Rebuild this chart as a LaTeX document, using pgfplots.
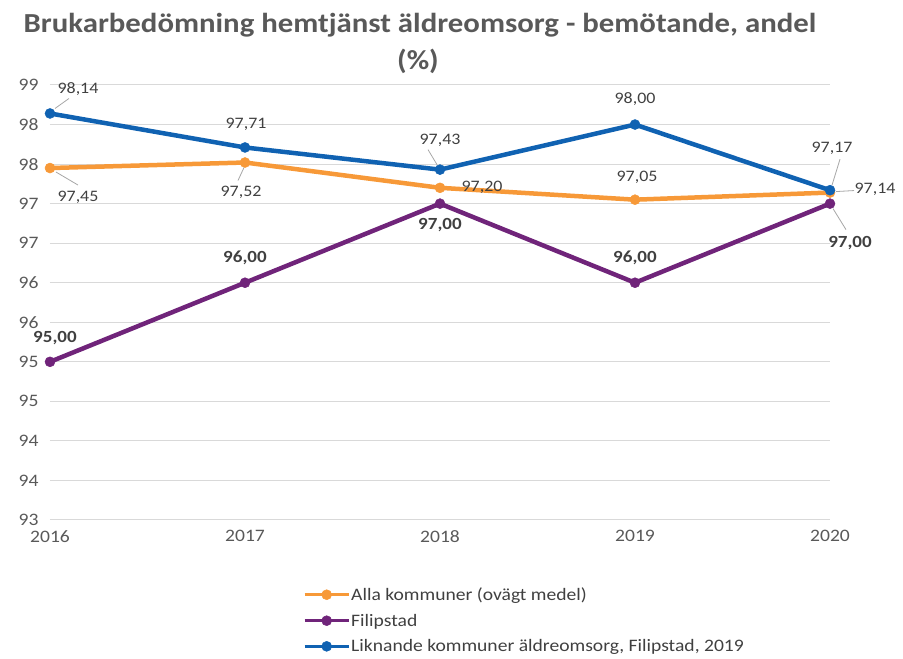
\documentclass[border=0pt]{standalone}
\usepackage{fontspec}
\setmainfont{Carlito}[FakeStretch=1.12]
\usepackage{pgfplots}
\pgfplotsset{compat=1.18}
\definecolor{cOr}{RGB}{247,153,56}
\definecolor{cPu}{RGB}{112,36,122}
\definecolor{cBl}{RGB}{16,98,178}
\definecolor{cTxt}{RGB}{89,89,89}
\definecolor{cLab}{RGB}{64,64,64}
\definecolor{cGrid}{RGB}{217,217,217}
\definecolor{cLead}{RGB}{166,166,166}
\begin{document}
\begin{tikzpicture}[
 lab/.style={font=\fontsize{16}{19}\selectfont, text=cLab, inner sep=1pt},
 blab/.style={font=\fontsize{17}{20}\selectfont\bfseries, text=cLab, inner sep=1pt},
 lead/.style={draw=cLead, line width=0.8pt}]
\useasboundingbox (0,0) rectangle (903pt,659pt);
\node[text=cTxt, font=\fontsize{27.5}{32}\selectfont\bfseries] at (420pt,634pt) {Brukarbedömning hemtjänst äldreomsorg - bemötande, andel};
\node[text=cTxt, font=\fontsize{27.5}{32}\selectfont\bfseries] at (418pt,598pt) {(\%)};
\begin{axis}[
 at={(50pt,139pt)}, anchor=south west,
 scale only axis, width=780pt, height=435pt,
 xmin=2016, xmax=2020, ymin=93, ymax=98.5,
 xtick={2016,2017,2018,2019,2020}, xticklabels={2016,2017,2018,2019,2020},
 ytick={93,93.5,94,94.5,95,95.5,96,96.5,97,97.5,98,98.5},
 yticklabels={93,94,94,95,95,96,96,97,97,98,98,99},
 ymajorgrids, major grid style={cGrid, line width=1pt},
 axis line style={draw=none}, major tick length=0pt,
 tick label style={font=\fontsize{17.5}{20}\selectfont, text=cTxt},
 yticklabel style={xshift=-8pt},
 xticklabel style={yshift=-7pt},
 clip=false,
 legend cell align=left,
 legend style={at={(0.3205,-0.148)}, anchor=north west, draw=none, fill=none,
   font=\fontsize{17.5}{20}\selectfont, text=cLab, row sep=10pt,
   nodes={inner sep=1pt}},
 legend image code/.code={\draw[#1, line width=3pt, mark repeat=2, mark phase=2] plot coordinates {(0pt,0pt) (22pt,0pt) (44pt,0pt)};},
]
\addplot[cOr, line width=4.5pt, mark=*, mark size=5pt, mark options={solid, line width=0.5pt}]
 coordinates {(2016,97.45)(2017,97.52)(2018,97.20)(2019,97.05)(2020,97.14)};
\addlegendentry{Alla kommuner (ovägt medel)}
\addplot[cPu, line width=4.5pt, mark=*, mark size=5pt, mark options={solid, line width=0.5pt}]
 coordinates {(2016,95.00)(2017,96.00)(2018,97.00)(2019,96.00)(2020,97.00)};
\addlegendentry{Filipstad}
\addplot[cBl, line width=4.5pt, mark=*, mark size=5pt, mark options={solid, line width=0.5pt}]
 coordinates {(2016,98.14)(2017,97.71)(2018,97.43)(2019,98.00)(2020,97.17)};
\addlegendentry{Liknande kommuner äldreomsorg, Filipstad, 2019}
% blue labels
\node[lab, xshift=28pt, yshift=24pt] at (axis cs:2016,98.14) {98,14};
\draw[lead] ([xshift=5pt,yshift=5pt]axis cs:2016,98.14) -- ([xshift=19pt,yshift=15pt]axis cs:2016,98.14);
\node[lab, xshift=1pt, yshift=23pt] at (axis cs:2017,97.71) {97,71};
\node[lab, xshift=0pt, yshift=29pt] at (axis cs:2018,97.43) {97,43};
\draw[lead] ([xshift=-3pt,yshift=5pt]axis cs:2018,97.43) -- ([xshift=-12pt,yshift=20pt]axis cs:2018,97.43);
\node[lab, xshift=0pt, yshift=25pt] at (axis cs:2019,98.00) {98,00};
\node[lab, xshift=2pt, yshift=42pt] at (axis cs:2020,97.17) {97,17};
\draw[lead] ([xshift=2pt,yshift=5pt]axis cs:2020,97.17) -- ([xshift=10pt,yshift=31pt]axis cs:2020,97.17);
% orange labels
\node[lab, xshift=28pt, yshift=-29pt] at (axis cs:2016,97.45) {97,45};
\draw[lead] ([xshift=6pt,yshift=-4pt]axis cs:2016,97.45) -- ([xshift=28pt,yshift=-17pt]axis cs:2016,97.45);
\node[lab, xshift=-4pt, yshift=-30pt] at (axis cs:2017,97.52) {97,52};
\draw[lead] ([xshift=-1pt,yshift=-5pt]axis cs:2017,97.52) -- ([xshift=-7pt,yshift=-18pt]axis cs:2017,97.52);
\node[lab, xshift=42pt, yshift=0pt] at (axis cs:2018,97.20) {97,20};
\node[lab, xshift=2pt, yshift=22pt] at (axis cs:2019,97.05) {97,05};
\node[lab, xshift=45pt, yshift=3pt] at (axis cs:2020,97.14) {97,14};
\draw[lead] ([xshift=6pt,yshift=1pt]axis cs:2020,97.14) -- ([xshift=24pt,yshift=2pt]axis cs:2020,97.14);
% purple labels
\node[blab, xshift=5pt, yshift=24pt] at (axis cs:2016,95.00) {95,00};
\node[blab, xshift=0pt, yshift=25pt] at (axis cs:2017,96.00) {96,00};
\node[blab, xshift=0pt, yshift=-21pt] at (axis cs:2018,97.00) {97,00};
\node[blab, xshift=0pt, yshift=25pt] at (axis cs:2019,96.00) {96,00};
\node[blab, xshift=20pt, yshift=-39pt] at (axis cs:2020,97.00) {97,00};
\draw[lead] ([xshift=3pt,yshift=-5pt]axis cs:2020,97.00) -- ([xshift=16pt,yshift=-26pt]axis cs:2020,97.00);
\end{axis}
\end{tikzpicture}
\end{document}
